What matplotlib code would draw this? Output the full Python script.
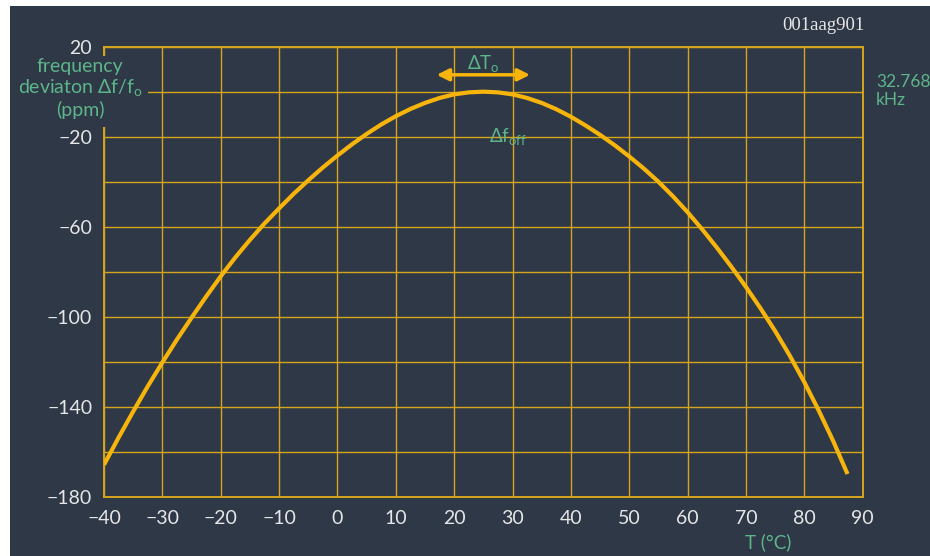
import matplotlib
matplotlib.use("Agg")
import matplotlib.pyplot as plt
from matplotlib.patches import Rectangle

# values, every 2.5 degC
temp_c = [-40, -37.5, -35, -32.5, -30, -27.5, -25, -22.5, -20, -17.5, -15,
          -12.5, -10, -7.5, -5, -2.5, 0, 2.5, 5, 7.5, 10, 12.5, 15, 17.5,
          20, 22.5, 25, 27.5, 30, 32.5, 35, 37.5, 40, 42.5, 45, 47.5, 50,
          52.5, 55, 57.5, 60, 62.5, 65, 67.5, 70, 72.5, 75, 77.5, 80, 82.5,
          85, 87.4]
dev_ppm = [-165.9, -153.8, -142.2, -131.0, -120.4, -110.2, -100.5, -91.1,
           -82.1, -73.7, -65.9, -58.6, -51.9, -45.4, -39.4, -33.7, -28.4,
           -23.4, -18.8, -14.6, -10.9, -7.7, -5.0, -2.8, -1.2, -0.3, 0,
           -0.3, -1.2, -2.8, -5.0, -7.8, -11.15, -15.0, -19.2, -23.8, -28.8,
           -34.2, -40.05, -46.55, -53.6, -61.2, -69.3, -77.85, -86.85,
           -96.35, -106.45, -117.35, -129.15, -141.95, -155.65, -170]
x_ticks = [-40, -30, -20, -10, 0, 10, 20, 30, 40, 50, 60, 70, 80, 90]
y_ticks = [20, 0, -20, -40, -60, -80, -100, -120, -140, -160, -180]
y_labels = ["20", "", "\u221220", "", "\u221260", "", "\u2212100", "",
            "\u2212140", "", "\u2212180"]

bg = "#2f3847"
grid_col = "#d6a51c"
curve_col = "#f7b50c"
green = "#5db58a"
txt = "#e6e6e6"

plt.rcParams['font.family'] = ['Lato', 'DejaVu Sans']

fig = plt.figure(figsize=(9.3, 5.56), dpi=100)
fig.patch.set_facecolor(bg)
# white strip on top and left like the original
fig.patches.append(Rectangle((0, 0), 10 / 930, 1, transform=fig.transFigure,
                             facecolor="white", edgecolor="none", zorder=-10))
fig.patches.append(Rectangle((0, 550 / 556), 1, 6 / 556, transform=fig.transFigure,
                             facecolor="white", edgecolor="none", zorder=-10))

ax = fig.add_axes([104 / 930, 59.5 / 556, 758.7 / 930, 449.8 / 556])
ax.set_facecolor(bg)
ax.set_xlim(-40, 90)
ax.set_ylim(-180, 20)

ax.set_xticks(x_ticks)
ax.set_xticklabels([str(v).replace("-", "\u2212") for v in x_ticks])
ax.set_yticks(y_ticks)
ax.set_yticklabels(y_labels)
ax.tick_params(axis="both", length=0, labelsize=14, colors=txt)
ax.tick_params(axis="y", pad=8.5)
ax.tick_params(axis="x", pad=10)
ax.grid(True, color=grid_col, lw=1.0)
ax.set_axisbelow(True)
for s in ax.spines.values():
    s.set_color(grid_col)
    s.set_linewidth(1.4)

ax.plot(temp_c, dev_ppm, color=curve_col, lw=3.0, solid_capstyle="butt",
        solid_joinstyle="round", zorder=3)

# cover behind the y label (spine and 0-line are broken there)
ax.add_patch(Rectangle((-41, -15.5), 8.5, 31.5, facecolor=bg, edgecolor="none",
                       zorder=4, clip_on=False))
ax.text(-44.1, 11.3, "frequency", color=green, fontsize=14, ha="center",
        va="center", zorder=5, clip_on=False)
ax.text(-44.1, 1.5, "deviaton \u0394f/f$_\\mathregular{o}$", color=green, fontsize=14,
        ha="center", va="center", zorder=5, clip_on=False)
ax.text(-44.1, -8.3, "(ppm)", color=green, fontsize=14, ha="center",
        va="center", zorder=5, clip_on=False)

ax.annotate("", xy=(17, 7.5), xytext=(33, 7.5),
            arrowprops=dict(arrowstyle="<|-|>", color=curve_col, lw=2.5,
                            mutation_scale=18, shrinkA=0, shrinkB=0))
ax.text(25, 12.3, "\u0394T$_\\mathregular{o}$", color=green, fontsize=13.5,
        ha="center", va="center")
ax.text(29.3, -20.5, "\u0394f$_\\mathregular{off}$", color=green, fontsize=13.5,
        ha="center", va="center")

ax.text(92.3, 0.3, "32.768\nkHz", color=green, fontsize=12.5, ha="left",
        va="center", linespacing=1.2, clip_on=False)
fig.text(864 / 930, 1 - 25 / 556, "001aag901", color=txt, fontsize=13.5,
         ha="right", va="center", family="Liberation Serif")
fig.text(768 / 930, 1 - 542 / 556, "T (\u00b0C)", color=green, fontsize=13.5,
         ha="center", va="center")

fig.savefig("out.png", dpi=100, facecolor=fig.get_facecolor())
